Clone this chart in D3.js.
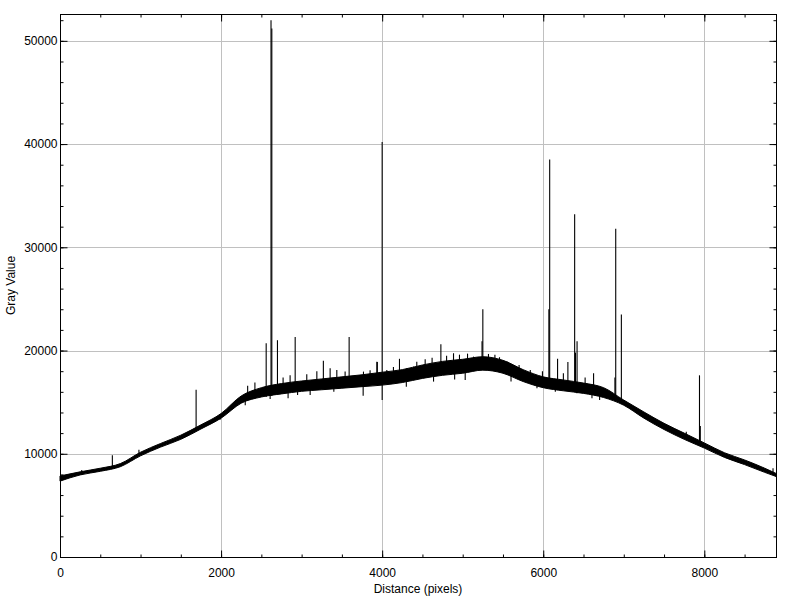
<!DOCTYPE html>
<html>
<head>
<meta charset="utf-8">
<script src="https://cdn.jsdelivr.net/npm/d3@7"></script>
<style>
  html, body { margin: 0; padding: 0; background: #fff; }
  svg { display: block; }
  text { font-family: "Liberation Sans", Arial, sans-serif; }
</style>
</head>
<body>
<svg id="chart" width="795" height="598"></svg>
<script>
// ---- Data ----
const distance    = [0,250,500,750,1000,1250,1500,1750,2000,2250,2500,2750,3000,3250,3500,3750,4000,4250,4500,4750,5000,5250,5500,5750,6000,6250,6500,6750,7000,7250,7500,7750,8000,8250,8500,8750,8890];
const profileLow  = [7350,7950,8300,8750,9800,10650,11400,12400,13450,14900,15500,15800,16050,16200,16350,16500,16650,16900,17300,17600,17800,18100,17800,17000,16400,16100,15850,15450,14700,13450,12350,11400,10550,9650,8950,8200,7800];
const profileHigh = [7850,8250,8600,9050,10150,11000,11800,12800,13900,15600,16400,16800,17050,17250,17450,17650,17900,18150,18600,18950,19150,19400,19050,18150,17450,17150,16850,16400,15200,14050,12950,12000,11050,10100,9400,8600,8100];

// narrow peaks: position, value where the peak leaves the band, peak value
const spikeDistance = [270,650,980,1690,2330,2420,2560,2620,2630,2700,2770,2857,2920,3064,3189,3270,3354,3437,3540,3590,3665,3768,3850,3934,3940,4000,4058,4140,4215,4307,4389,4430,4534,4620,4729,4800,4886,4960,5060,5134,5240,5250,5320,5400,5457,5557,5700,5839,5990,6070,6080,6178,6250,6306,6390,6400,6420,6520,6625,6890,6900,6970,7300,7776,7940,7950,8853];
const spikeBase     = [7950,8600,9900,12300,15300,15500,15500,15600,15600,15800,16000,16200,16200,16500,16500,16500,16600,16600,16700,16900,16900,17000,17000,17000,17000,17100,17100,17200,17300,17300,17400,17400,17600,17700,17800,17900,17900,18000,18100,18100,18500,18500,18500,18400,18300,18000,17500,17200,16800,16800,16800,16600,16500,16500,16300,16300,16300,16100,16000,15200,15200,14900,13700,11700,11000,11000,8000];
const spikePeak     = [8430,9850,10400,16200,16600,16900,20700,52000,51200,21000,17400,17600,21300,17700,18000,19000,18280,18120,17960,21300,17640,17960,18100,18920,18900,40200,18120,18400,19200,18280,18440,18920,19150,19300,20600,19500,19740,19600,19700,19410,20900,24000,19670,19600,19350,18920,18600,18120,18000,24000,38500,19200,17800,18900,33200,19800,20900,17400,17800,17400,31800,23500,13600,12140,17600,12700,8600];

// downward dips: position, band value, lowest value
const dipDistance = [1988,2300,2609,2832,2950,3106,3400,3764,4000,4300,4638,4900,5031,5600,5922,6150,6418,6605,6700];
const dipBase     = [13700,15200,15900,16300,16300,16500,16600,16900,17100,17300,17600,17900,18000,17600,17000,16600,16500,16100,15900];
const dipLow      = [13300,14700,15300,15380,15700,15700,16000,15630,15210,16500,16990,17200,17150,17000,16350,16000,15860,15380,15200];

// axis ticks
const xMajor = [0,2000,4000,6000,8000];
const xMinor = d3.range(0, 8890, 500);
const yMajor = [0,10000,20000,30000,40000,50000];
const yMinor = d3.range(0, 52600, 2000);

// ---- Layout ----
const L = 60, R = 776, T = 14, B = 557;
const svg = d3.select("#chart");
const x = d3.scaleLinear().domain([0, 8890]).range([L, R]);
const y = d3.scaleLinear().domain([0, 52600]).range([B, T]);

// grid
const grid = svg.append("g").attr("stroke", "#c0c0c0").attr("stroke-width", 1);
xMajor.filter(d => d > 0).forEach(d => {
  grid.append("line").attr("x1", Math.round(x(d)) + 0.5).attr("x2", Math.round(x(d)) + 0.5)
    .attr("y1", T).attr("y2", B);
});
yMajor.filter(d => d > 0).forEach(d => {
  grid.append("line").attr("y1", Math.round(y(d)) + 0.5).attr("y2", Math.round(y(d)) + 0.5)
    .attr("x1", L).attr("x2", R);
});

// profile band
const bandData = distance.map((d, i) => ({ d, lo: profileLow[i], hi: profileHigh[i] }));
const area = d3.area().curve(d3.curveMonotoneX)
  .x(p => x(p.d)).y0(p => y(p.lo)).y1(p => y(p.hi));
svg.append("path").datum(bandData).attr("d", area)
  .attr("fill", "#000").attr("stroke", "#000").attr("stroke-width", 1);

// peaks and dips
const marks = svg.append("g").attr("stroke", "#000").attr("stroke-width", 1.1);
spikeDistance.forEach((d, i) => {
  marks.append("line").attr("x1", x(d)).attr("x2", x(d))
    .attr("y1", y(spikeBase[i])).attr("y2", y(spikePeak[i]));
});
dipDistance.forEach((d, i) => {
  marks.append("line").attr("x1", x(d)).attr("x2", x(d))
    .attr("y1", y(dipBase[i])).attr("y2", y(dipLow[i]));
});

// axes
function styleAxis(g) {
  g.selectAll("text").attr("font-size", 12).attr("fill", "#000")
    .attr("font-family", '"Liberation Sans", Arial, sans-serif');
  g.selectAll("line").attr("stroke", "#000");
  g.select(".domain").remove();
}
svg.append("g").attr("transform", `translate(0,${B + 0.5})`)
  .call(d3.axisBottom(x).tickValues(xMinor).tickSize(-3).tickFormat(""))
  .call(styleAxis);
svg.append("g").attr("transform", `translate(0,${B + 0.5})`)
  .call(d3.axisBottom(x).tickValues(xMajor).tickSize(-7).tickPadding(11).tickFormat(d3.format("d")))
  .call(styleAxis);
svg.append("g").attr("transform", `translate(0,${T + 0.5})`)
  .call(d3.axisTop(x).tickValues(xMinor).tickSize(-3).tickFormat(""))
  .call(styleAxis);
svg.append("g").attr("transform", `translate(0,${T + 0.5})`)
  .call(d3.axisTop(x).tickValues(xMajor).tickSize(-7).tickFormat(""))
  .call(styleAxis);
svg.append("g").attr("transform", `translate(${L + 0.5},0)`)
  .call(d3.axisLeft(y).tickValues(yMinor).tickSize(-3).tickFormat(""))
  .call(styleAxis);
svg.append("g").attr("transform", `translate(${L + 0.5},0)`)
  .call(d3.axisLeft(y).tickValues(yMajor).tickSize(-7).tickPadding(3).tickFormat(d3.format("d")))
  .call(styleAxis);
svg.append("g").attr("transform", `translate(${R + 0.5},0)`)
  .call(d3.axisRight(y).tickValues(yMinor).tickSize(-3).tickFormat(""))
  .call(styleAxis);
svg.append("g").attr("transform", `translate(${R + 0.5},0)`)
  .call(d3.axisRight(y).tickValues(yMajor).tickSize(-7).tickFormat(""))
  .call(styleAxis);

// frame
svg.append("rect").attr("x", L + 0.5).attr("y", T + 0.5)
  .attr("width", R - L).attr("height", B - T)
  .attr("fill", "none").attr("stroke", "#000").attr("stroke-width", 1);

// titles
svg.append("text").attr("x", (L + R) / 2).attr("y", 593)
  .attr("text-anchor", "middle").attr("font-size", 12).text("Distance (pixels)");
svg.append("text").attr("transform", `translate(15,${(T + B) / 2}) rotate(-90)`)
  .attr("text-anchor", "middle").attr("font-size", 12).text("Gray Value");
</script>
</body>
</html>
